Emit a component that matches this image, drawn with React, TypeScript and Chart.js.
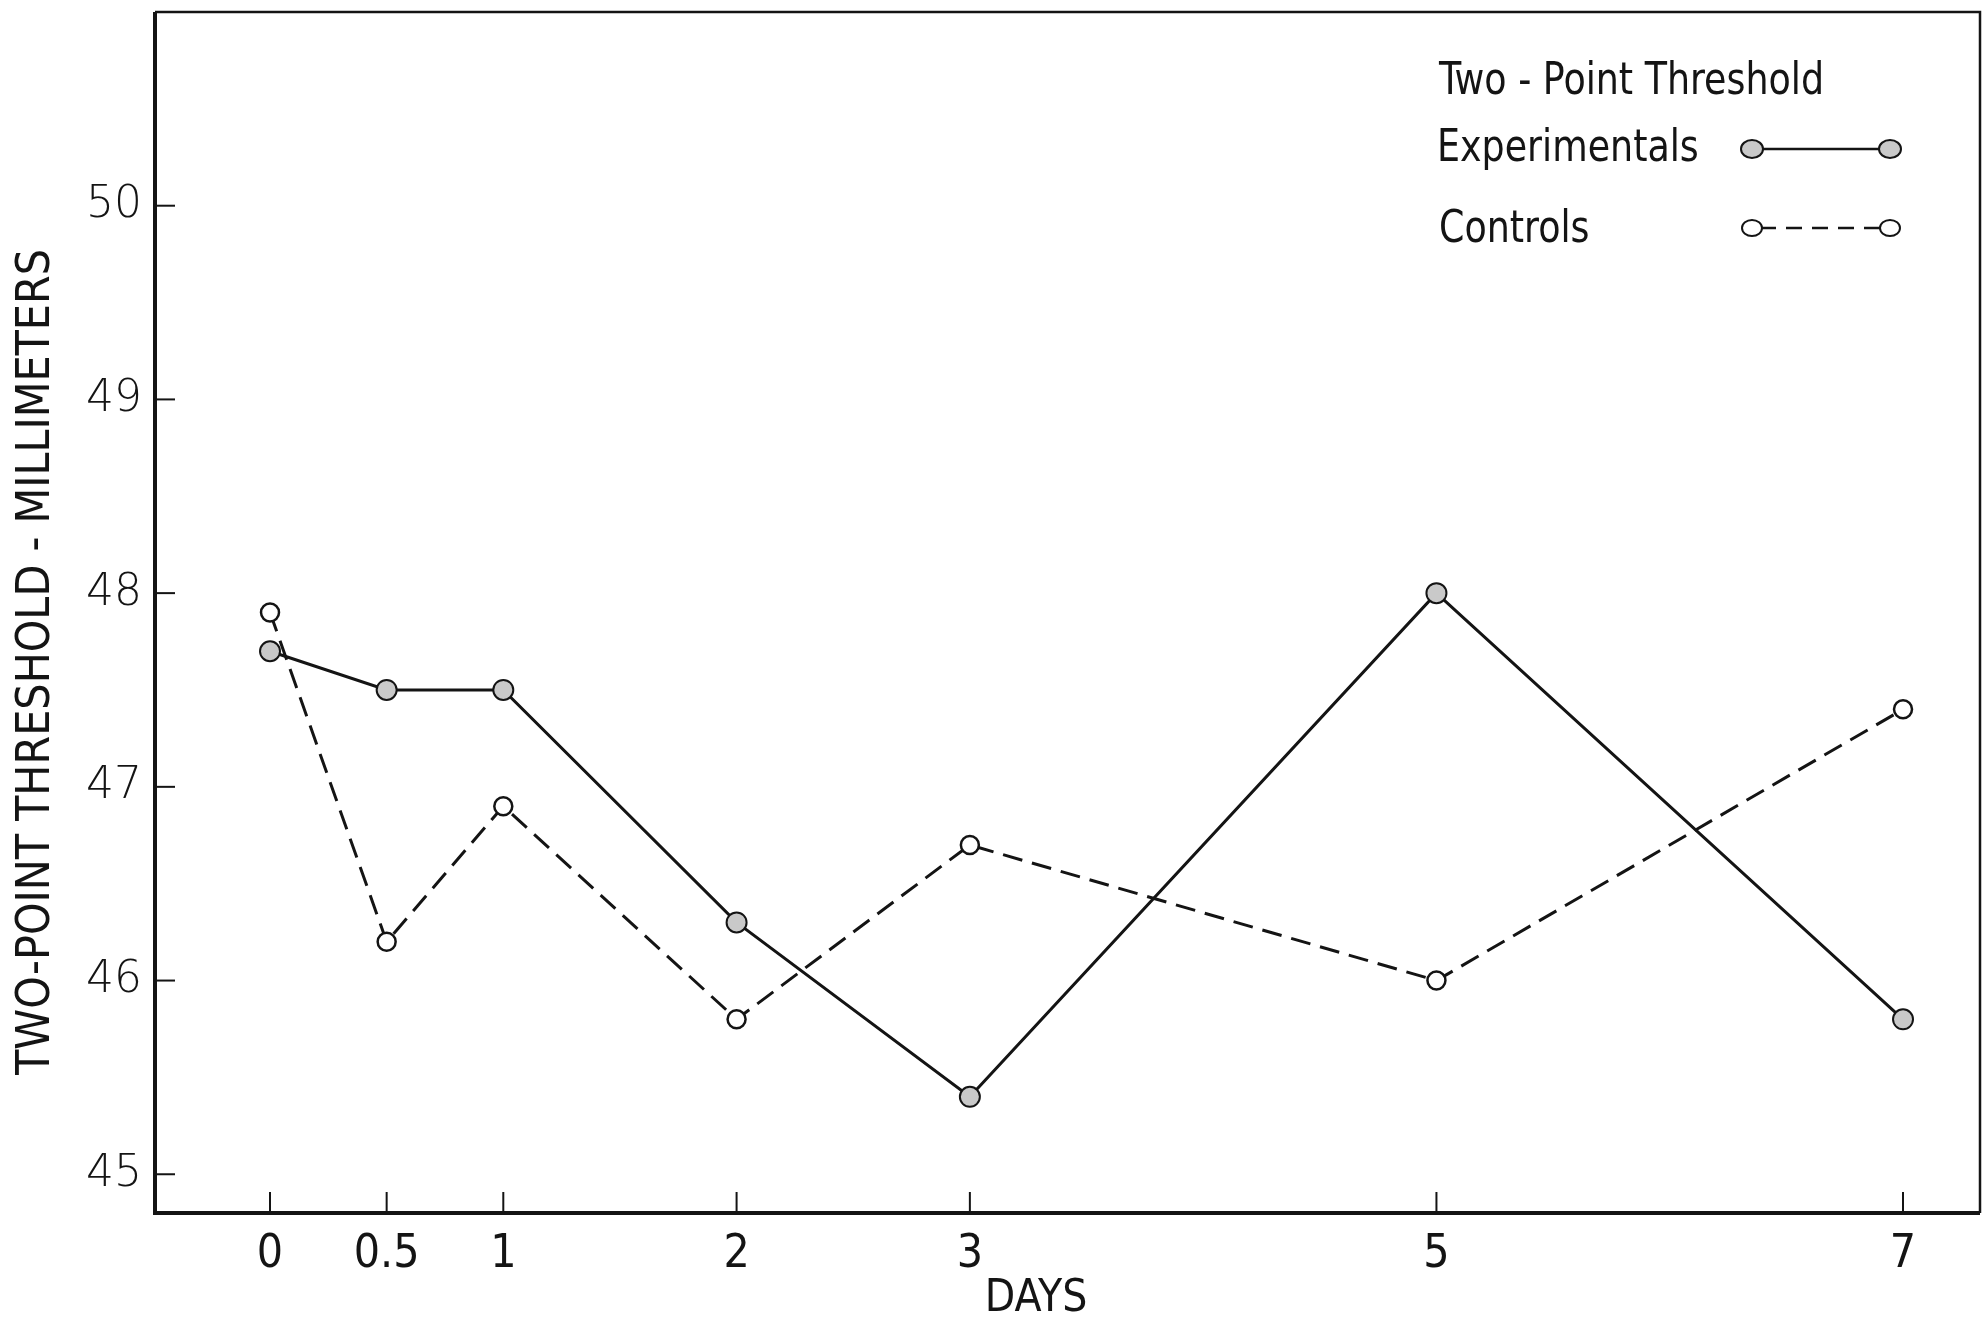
import React, { useEffect, useRef } from "react";
import { Chart, registerables } from "chart.js";

Chart.register(...registerables);

const days = [0, 0.5, 1, 2, 3, 5, 7];
const xTickLabels = ["0", "0.5", "1", "2", "3", "5", "7"];
const experimentals = [47.7, 47.5, 47.5, 46.3, 45.4, 48.0, 45.8];
const controls = [47.9, 46.2, 46.9, 45.8, 46.7, 46.0, 47.4];
const yTicks = [45, 46, 47, 48, 49, 50];
const legendTitle = "Two - Point Threshold";
const seriesNames = ["Experimentals", "Controls"];
const xTitle = "DAYS";
const yTitle = "TWO-POINT THRESHOLD - MILLIMETERS";

const NARROW = '"Liberation Sans Narrow", "DejaVu Sans Condensed", "Arial Narrow", sans-serif';
const WIDE = '"DejaVu Sans", "Noto Sans", sans-serif';
const INK = "#141414";
const EXP_FILL = "#c9c9c9";
const DASH = [20, 10];

const framePlugin = {
  id: "frameTicks",
  afterDraw(chart: any) {
    const { ctx, chartArea: a, scales } = chart;
    ctx.save();
    ctx.strokeStyle = INK;
    ctx.lineCap = "butt";
    ctx.lineWidth = 4;
    ctx.beginPath();
    ctx.moveTo(a.left, a.top);
    ctx.lineTo(a.left, a.bottom);
    ctx.lineTo(a.right, a.bottom);
    ctx.stroke();
    ctx.lineWidth = 2.5;
    ctx.beginPath();
    ctx.moveTo(a.left, a.top);
    ctx.lineTo(a.right, a.top);
    ctx.lineTo(a.right, a.bottom);
    ctx.stroke();
    ctx.lineWidth = 2;
    yTicks.forEach((v) => {
      const y = scales.y.getPixelForValue(v);
      ctx.beginPath();
      ctx.moveTo(a.left, y);
      ctx.lineTo(a.left + 20, y);
      ctx.stroke();
    });
    days.forEach((d) => {
      const x = scales.x.getPixelForValue(d);
      ctx.beginPath();
      ctx.moveTo(x, a.bottom);
      ctx.lineTo(x, a.bottom - 21);
      ctx.stroke();
    });
    // axis titles
    ctx.fillStyle = INK;
    ctx.textAlign = "center";
    ctx.textBaseline = "middle";
    ctx.font = `44px ${NARROW}`;
    ctx.fillText(xTitle, 1036, 1300);
    ctx.save();
    ctx.translate(37, 662);
    ctx.rotate(-Math.PI / 2);
    ctx.font = `46px ${NARROW}`;
    ctx.fillText(yTitle, 0, 0);
    ctx.restore();
    ctx.restore();
  },
};

const legendPlugin = {
  id: "customLegend",
  afterDraw(chart: any) {
    const { ctx, chartArea: a } = chart;
    const x0 = a.left + 1284;
    ctx.save();
    ctx.fillStyle = INK;
    ctx.font = `44px ${NARROW}`;
    ctx.textBaseline = "middle";
    ctx.textAlign = "left";
    const squeeze = 0.92;
    const drawText = (t: string, x: number, y: number) => {
      ctx.save();
      ctx.translate(x, y);
      ctx.scale(squeeze, 1);
      ctx.fillText(t, 0, 0);
      ctx.restore();
    };
    drawText(legendTitle, x0, a.top + 71);
    drawText(seriesNames[0], x0 - 2, a.top + 138);
    drawText(seriesNames[1], x0, a.top + 219);
    const sx1 = a.left + 1597;
    const sx2 = a.left + 1735;
    let y = a.top + 137;
    ctx.strokeStyle = INK;
    ctx.lineWidth = 2.5;
    ctx.setLineDash([]);
    ctx.beginPath();
    ctx.moveTo(sx1, y);
    ctx.lineTo(sx2, y);
    ctx.stroke();
    ctx.lineWidth = 2;
    [sx1, sx2].forEach((px) => {
      ctx.beginPath();
      ctx.ellipse(px, y, 11, 9, 0, 0, Math.PI * 2);
      ctx.fillStyle = EXP_FILL;
      ctx.fill();
      ctx.stroke();
    });
    y = a.top + 216;
    ctx.lineWidth = 2.5;
    ctx.setLineDash([16, 10]);
    ctx.beginPath();
    ctx.moveTo(sx1 + 8, y);
    ctx.lineTo(sx2 - 8, y);
    ctx.stroke();
    ctx.setLineDash([]);
    ctx.lineWidth = 2;
    [sx1, sx2].forEach((px) => {
      ctx.beginPath();
      ctx.ellipse(px, y, 10, 8, 0, 0, Math.PI * 2);
      ctx.fillStyle = "#ffffff";
      ctx.fill();
      ctx.stroke();
    });
    ctx.restore();
  },
};

export default function App() {
  const ref = useRef<HTMLCanvasElement | null>(null);

  useEffect(() => {
    document.body.style.margin = "0";
    const canvas = ref.current;
    if (!canvas) return;
    const chart = new Chart(canvas, {
      type: "line",
      data: {
        datasets: [
          {
            label: seriesNames[0],
            data: days.map((d, i) => ({ x: d, y: experimentals[i] })),
            borderColor: INK,
            borderWidth: 3,
            pointRadius: 10,
            pointBorderWidth: 2,
            pointBackgroundColor: EXP_FILL,
            pointBorderColor: INK,
            tension: 0,
            fill: false,
          },
          {
            label: seriesNames[1],
            data: days.map((d, i) => ({ x: d, y: controls[i] })),
            borderColor: INK,
            borderWidth: 3,
            borderDash: DASH,
            pointRadius: 9,
            pointBorderWidth: 2.5,
            pointBackgroundColor: "#ffffff",
            pointBorderColor: INK,
            tension: 0,
            fill: false,
          },
        ],
      },
      options: {
        animation: false,
        responsive: true,
        maintainAspectRatio: false,
        layout: { padding: { left: 0, right: 1, top: 11, bottom: 0 } },
        plugins: {
          legend: { display: false },
          tooltip: { enabled: false },
        },
        scales: {
          x: {
            type: "linear",
            min: -0.493,
            max: 7.33,
            grid: { display: false, drawTicks: false },
            border: { display: false },
            afterBuildTicks: (scale: any) => {
              scale.ticks = days.map((d) => ({ value: d }));
            },
            afterFit: (scale: any) => {
              scale.height = 106;
              scale.paddingLeft = 0;
              scale.paddingRight = 0;
            },
            ticks: {
              padding: 14,
              color: INK,
              font: { family: NARROW, size: 46 },
              callback: (_v: any, i: number) => xTickLabels[i],
            },
          },
          y: {
            type: "linear",
            min: 44.8,
            max: 51.0,
            grid: { display: false, drawTicks: false },
            border: { display: false },
            afterBuildTicks: (scale: any) => {
              scale.ticks = yTicks.map((v) => ({ value: v }));
            },
            afterFit: (scale: any) => {
              scale.width = 155;
              scale.paddingTop = 0;
              scale.paddingBottom = 0;
            },
            ticks: {
              padding: 13,
              color: INK,
              font: { family: WIDE, size: 44, weight: "200" },
              callback: (v: any) => String(v),
            },
          },
        },
      },
      plugins: [framePlugin, legendPlugin],
    } as any);
    return () => chart.destroy();
  }, []);

  return (
    <div style={{ position: "fixed", left: 0, top: 0, width: 1988, height: 1319, overflow: "hidden", background: "#fff" }}>
      <div style={{ position: "absolute", left: 0, top: 0, width: 1992, height: 1319 }}>
        <canvas ref={ref} />
      </div>
    </div>
  );
}
